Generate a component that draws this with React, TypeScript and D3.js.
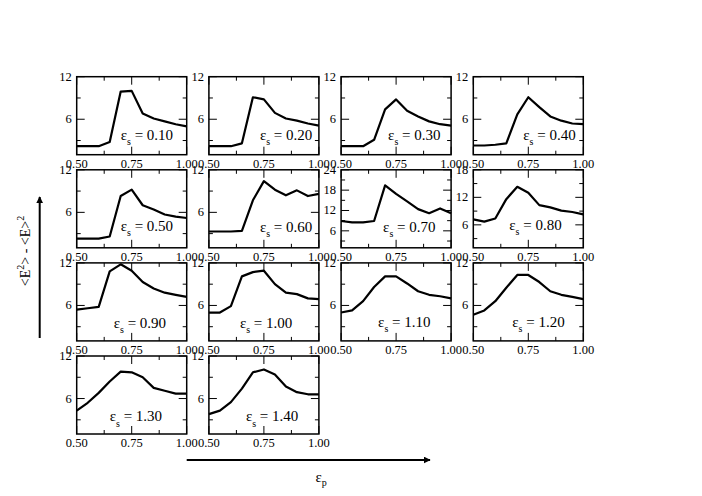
import React, { useEffect, useRef } from 'react';
import * as d3 from 'd3';

// eps_p sample points (x axis of every panel)
const epsP = [0.5, 0.55, 0.6, 0.65, 0.7, 0.75, 0.8, 0.85, 0.9, 0.95, 1.0];

// <E^2> - <E>^2 for each eps_s
const s010 = [2.2, 2.2, 2.2, 2.8, 9.9, 10.0, 6.8, 6.1, 5.7, 5.3, 5.0];
const s020 = [2.2, 2.2, 2.2, 2.6, 9.1, 8.8, 6.9, 6.1, 5.8, 5.4, 5.1];
const s030 = [2.2, 2.2, 2.2, 3.1, 7.4, 8.8, 7.2, 6.4, 5.7, 5.3, 5.1];
const s040 = [2.3, 2.3, 2.4, 2.6, 6.7, 9.1, 7.7, 6.4, 5.8, 5.4, 5.3];
const s050 = [2.3, 2.3, 2.3, 2.6, 8.3, 9.2, 7.0, 6.4, 5.7, 5.4, 5.2];
const s060 = [3.3, 3.3, 3.3, 3.4, 7.7, 10.4, 9.2, 8.4, 9.1, 8.3, 8.6];
const s070 = [8.9, 8.5, 8.5, 8.9, 19.4, 16.9, 14.7, 12.4, 11.2, 12.6, 11.2];
const s080 = [7.2, 6.7, 7.4, 11.6, 14.3, 13.0, 10.3, 9.8, 9.1, 8.8, 8.3];
const s090 = [5.4, 5.6, 5.8, 10.8, 11.8, 10.9, 9.3, 8.4, 7.8, 7.5, 7.2];
const s100 = [5.0, 5.0, 5.9, 10.1, 10.7, 10.9, 9.0, 7.8, 7.6, 7.0, 6.9];
const s110 = [5.0, 5.3, 6.6, 8.6, 10.1, 10.1, 9.1, 8.0, 7.5, 7.3, 7.0];
const s120 = [4.7, 5.3, 6.6, 8.5, 10.3, 10.3, 9.3, 8.0, 7.5, 7.2, 6.9];
const s130 = [4.3, 5.4, 6.8, 8.4, 9.8, 9.7, 9.0, 7.5, 7.1, 6.7, 6.7];
const s140 = [3.8, 4.3, 5.5, 7.4, 9.7, 10.1, 9.4, 7.7, 6.9, 6.6, 6.6];

const series = [s010, s020, s030, s040, s050, s060, s070, s080, s090, s100, s110, s120, s130, s140];
const epsS = ["0.10", "0.20", "0.30", "0.40", "0.50", "0.60", "0.70", "0.80", "0.90", "1.00", "1.10", "1.20", "1.30", "1.40"];
const yMax = [12, 12, 12, 12, 12, 12, 24, 18, 12, 12, 12, 12, 12, 12];

const xMajor = [0.5, 0.75, 1.0];
const xMinor = [0.625, 0.875];

// where the eps_s label sits inside its panel (px from panel left / top)
const labelDx = [44, 51, 47, 50, 44, 51, 42, 36, 37, 31, 37, 39, 33, 37];
const labelDy = [63, 63, 63, 63, 61, 62, 62, 60, 65, 65, 64, 64, 65, 65];

const W = 702;
const H = 496;
const FONT = "Liberation Serif, Times New Roman, Times, DejaVu Serif, serif";

const App: React.FC = () => {
  const svgRef = useRef<SVGSVGElement>(null);

  useEffect(() => {
    if (!svgRef.current) return;
    const svg = d3.select(svgRef.current);
    svg.selectAll("*").remove();

    const pw = 110;
    const ph = 78;
    const colX = (j: number) => 76.7 + j * 132.2;
    const rowY = (i: number) => 76.7 + i * 93.1;
    const major = 8;
    const minor = 4;

    svg.append("rect").attr("width", W).attr("height", H).attr("fill", "#fff");

    series.forEach((vals, k) => {
      const i = Math.floor(k / 4);
      const j = k % 4;
      const x0 = colX(j);
      const y0 = rowY(i);
      const x = d3.scaleLinear().domain([0.5, 1.0]).range([x0, x0 + pw]);
      const y = d3.scaleLinear().domain([1, yMax[k]]).range([y0 + ph, y0]);
      const g = svg.append("g");

      const line = d3.line<number>()
        .x((_, idx) => x(epsP[idx]))
        .y(d => y(d));

      g.append("path")
        .datum(vals)
        .attr("d", line)
        .attr("fill", "none")
        .attr("stroke", "#000")
        .attr("stroke-width", 2.2)
        .attr("stroke-linejoin", "round");

      g.append("rect")
        .attr("x", x0).attr("y", y0).attr("width", pw).attr("height", ph)
        .attr("fill", "none").attr("stroke", "#000").attr("stroke-width", 1.5);

      // x ticks (top and bottom, inward)
      const xt = [...xMajor.map(v => ({ v, len: major })), ...xMinor.map(v => ({ v, len: minor }))];
      xt.forEach(t => {
        g.append("line").attr("x1", x(t.v)).attr("x2", x(t.v)).attr("y1", y0 + ph).attr("y2", y0 + ph - t.len).attr("stroke", "#000").attr("stroke-width", 1);
        g.append("line").attr("x1", x(t.v)).attr("x2", x(t.v)).attr("y1", y0).attr("y2", y0 + t.len).attr("stroke", "#000").attr("stroke-width", 1);
      });

      // y ticks (left and right, inward)
      const yMajorTicks = d3.range(6, yMax[k] + 0.1, 6);
      const yMinorTicks = d3.range(3, yMax[k], 6);
      const yt = [...yMajorTicks.map(v => ({ v, len: major })), ...yMinorTicks.map(v => ({ v, len: minor }))];
      yt.forEach(t => {
        g.append("line").attr("x1", x0).attr("x2", x0 + t.len).attr("y1", y(t.v)).attr("y2", y(t.v)).attr("stroke", "#000").attr("stroke-width", 1);
        g.append("line").attr("x1", x0 + pw).attr("x2", x0 + pw - t.len).attr("y1", y(t.v)).attr("y2", y(t.v)).attr("stroke", "#000").attr("stroke-width", 1);
      });

      // tick labels
      xMajor.forEach(v => {
        g.append("text")
          .attr("x", x(v)).attr("y", y0 + ph + 13.3)
          .attr("text-anchor", "middle")
          .style("font-family", FONT).style("font-size", "12.5px")
          .text(d3.format(".2f")(v));
      });
      yMajorTicks.forEach(v => {
        g.append("text")
          .attr("x", x0 - 5).attr("y", y(v) + 4)
          .attr("text-anchor", "end")
          .style("font-family", FONT).style("font-size", "12.5px")
          .text(v);
      });

      // eps_s label
      const lab = g.append("text")
        .attr("x", x0 + labelDx[k]).attr("y", y0 + labelDy[k])
        .style("font-family", FONT).style("font-size", "15px");
      lab.append("tspan").text("ε");
      lab.append("tspan").style("font-size", "10px").attr("dy", 5.5).text("s");
      lab.append("tspan").attr("dy", -5.5).text(` = ${epsS[k]}`);
    });

    // axis arrows
    const defs = svg.append("defs");
    defs.append("marker")
      .attr("id", "arrow").attr("viewBox", "0 0 10 10")
      .attr("refX", 9).attr("refY", 5)
      .attr("markerWidth", 7).attr("markerHeight", 7)
      .attr("markerUnits", "userSpaceOnUse")
      .attr("orient", "auto")
      .append("path").attr("d", "M0,0 L10,5 L0,10 Z").attr("fill", "#000");

    svg.append("line")
      .attr("x1", 39.7).attr("x2", 39.7).attr("y1", 338).attr("y2", 197)
      .attr("stroke", "#000").attr("stroke-width", 2).attr("marker-end", "url(#arrow)");
    svg.append("line")
      .attr("x1", 186.7).attr("x2", 430).attr("y1", 460).attr("y2", 460)
      .attr("stroke", "#000").attr("stroke-width", 2).attr("marker-end", "url(#arrow)");

    const yl = svg.append("text")
      .attr("transform", "translate(29.5,251) rotate(-90)")
      .attr("text-anchor", "middle")
      .style("font-family", FONT).style("font-size", "14px");
    yl.append("tspan").text("<E");
    yl.append("tspan").style("font-size", "10px").attr("dy", -6).text("2");
    yl.append("tspan").attr("dy", 6).text("> - <E>");
    yl.append("tspan").style("font-size", "10px").attr("dy", -6).text("2");

    const xl = svg.append("text")
      .attr("x", 315.5).attr("y", 481.5)
      .style("font-family", FONT).style("font-size", "15px");
    xl.append("tspan").text("ε");
    xl.append("tspan").style("font-size", "10px").attr("dy", 4).text("p");
  }, []);

  return (
    <div style={{ position: 'absolute', left: 0, top: 0, width: W, height: H, background: '#fff' }}>
      <svg ref={svgRef} width={W} height={H} style={{ display: 'block' }} />
    </div>
  );
};

export default App;
